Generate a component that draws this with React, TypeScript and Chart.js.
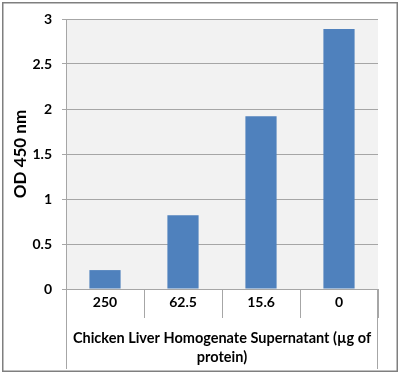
import React, { useEffect, useRef } from "react";
import { Chart, registerables } from "chart.js";

Chart.register(...registerables);

const categories = ["250", "62.5", "15.6", "0"];
const odValues = [0.21, 0.82, 1.92, 2.89];
const yTicks = [0, 0.5, 1, 1.5, 2, 2.5, 3];
const xTitle = ["Chicken Liver Homogenate Supernatant (µg of", "protein)"];
const yTitle = "OD 450 nm";

const FONT = "Lato, 'Open Sans', sans-serif";

const framePlugin = {
  id: "framePlugin",
  beforeDraw(chart: any) {
    const { ctx, chartArea } = chart;
    ctx.save();
    ctx.fillStyle = "#ffffff";
    ctx.fillRect(0, 0, chart.width, chart.height);
    ctx.fillStyle = "#f2f2f2";
    ctx.fillRect(chartArea.left, chartArea.top, chartArea.right - chartArea.left, chartArea.bottom - chartArea.top);
    ctx.restore();
  },
  afterDraw(chart: any) {
    const { ctx, chartArea } = chart;
    ctx.save();
    ctx.strokeStyle = "#a6a6a6";
    ctx.lineWidth = 1;
    ctx.beginPath();
    const l = Math.round(chartArea.left) + 0.5;
    const r = Math.round(chartArea.right) - 0.5;
    ctx.moveTo(l, chartArea.bottom);
    ctx.lineTo(l, 369);
    ctx.moveTo(r, chartArea.bottom);
    ctx.lineTo(r, 369);
    ctx.stroke();
    ctx.strokeStyle = "#7f7f7f";
    ctx.lineWidth = 1.5;
    ctx.strokeRect(2.75, 2.75, 394.5, 368.5);
    ctx.restore();
  },
};

export default function App() {
  const ref = useRef<HTMLCanvasElement>(null);
  useEffect(() => {
    document.body.style.margin = "0";
    const chart = new Chart(ref.current!, {
      type: "bar",
      data: {
        labels: categories,
        datasets: [
          {
            data: odValues,
            backgroundColor: "#4f81bd",
            categoryPercentage: 1,
            barPercentage: 0.4,
          },
        ],
      },
      options: {
        responsive: false,
        animation: false,
        layout: { padding: { top: 19, right: 22, left: 0, bottom: 0 } },
        plugins: { legend: { display: false }, tooltip: { enabled: false } },
        scales: {
          x: {
            afterFit: (s: any) => {
              s.height = 84;
            },
            grid: {
              offset: true,
              drawOnChartArea: false,
              tickLength: 29,
              color: "#a6a6a6",
            },
            border: { color: "#a6a6a6" },
            ticks: {
              padding: -24,
              color: "#000",
              font: { family: FONT, weight: "bold", size: 14 },
            },
            title: {
              display: true,
              text: xTitle,
              color: "#000",
              padding: { top: 0, bottom: 6.5 },
              font: { family: FONT, weight: "bold", size: 14.5, lineHeight: 19 / 14.5 },
            },
          },
          y: {
            min: 0,
            max: 3,
            afterFit: (s: any) => {
              s.width = 66;
            },
            afterBuildTicks: (s: any) => {
              s.ticks = yTicks.map((v) => ({ value: v }));
            },
            grid: { color: "#a6a6a6", tickLength: 4 },
            border: { color: "#a6a6a6" },
            ticks: {
              padding: 10,
              color: "#000",
              font: { family: FONT, weight: "bold", size: 14 },
              callback: (v: any) => String(v),
            },
            title: {
              display: true,
              text: yTitle,
              color: "#000",
              padding: { top: 11, bottom: 0 },
              font: { family: FONT, weight: "bold", size: 17, lineHeight: 20 / 17 },
            },
          },
        },
      },
      plugins: [framePlugin],
    });
    return () => chart.destroy();
  }, []);
  return (
    <div style={{ position: "absolute", left: 0, top: 0, width: 400, height: 373 }}>
      <canvas ref={ref} width={400} height={373} />
    </div>
  );
}
